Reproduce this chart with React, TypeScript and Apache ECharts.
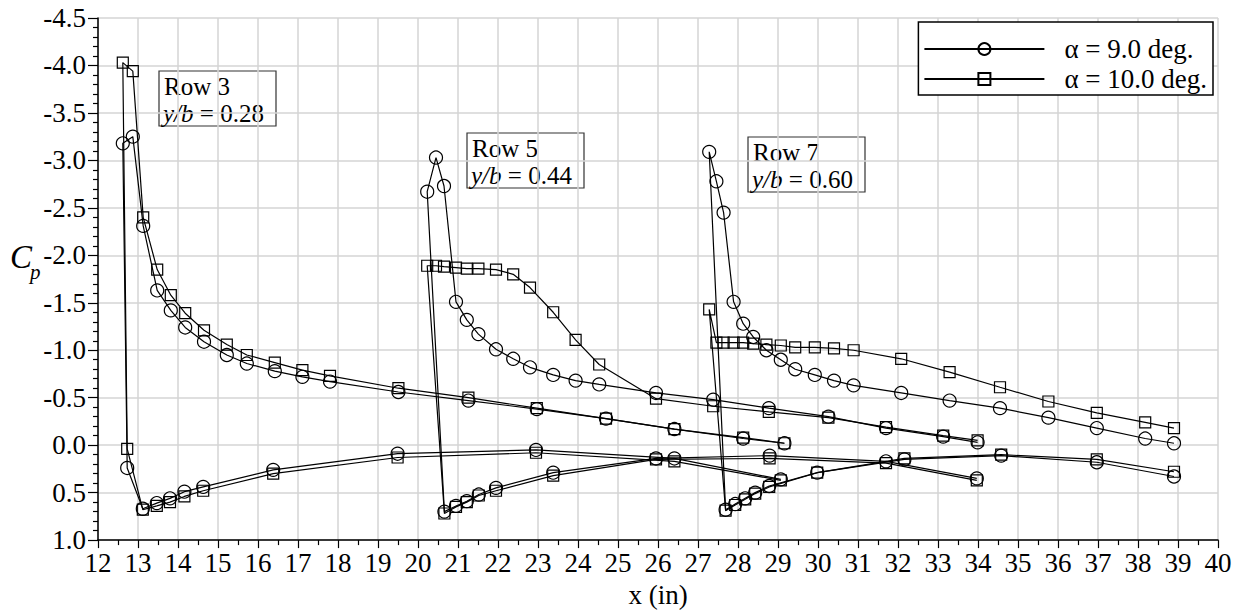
import React, { useEffect, useRef } from 'react';
import * as echarts from 'echarts';

const FONT = '"Liberation Serif", "Times New Roman", serif';

// Axis ranges
const xMin = 12;
const xMax = 40;
const yMin = -4.5;
const yMax = 1.0;

const seriesNames = ['α = 9.0 deg.', 'α = 10.0 deg.'];

// Row 3 (y/b = 0.28)
const row3UpperX = [12.62, 12.87, 13.13, 13.48, 13.82, 14.18, 14.65, 15.22, 15.72, 16.42, 17.11, 17.8, 19.51, 21.26, 22.97, 24.7, 26.41, 28.13, 29.16];
const row3Upper9 = [-3.18, -3.25, -2.31, -1.63, -1.42, -1.24, -1.09, -0.95, -0.86, -0.78, -0.72, -0.67, -0.56, -0.47, -0.38, -0.28, -0.17, -0.07, -0.02];
const row3Upper10 = [-4.03, -3.94, -2.4, -1.85, -1.58, -1.39, -1.21, -1.06, -0.95, -0.87, -0.79, -0.73, -0.6, -0.5, -0.39, -0.28, -0.17, -0.08, -0.02];
const row3LowerX = [12.73, 13.12, 13.47, 13.8, 14.16, 14.63, 16.38, 19.49, 22.95, 26.41, 29.07];
const row3Lower9 = [0.24, 0.67, 0.61, 0.56, 0.49, 0.44, 0.26, 0.09, 0.05, 0.14, 0.36];
const row3Lower10 = [0.04, 0.68, 0.64, 0.6, 0.54, 0.48, 0.3, 0.13, 0.08, 0.17, 0.37];

// Row 5 (y/b = 0.44)
const row5UpperX = [20.23, 20.45, 20.65, 20.95, 21.22, 21.51, 21.95, 22.38, 22.8, 23.38, 23.94, 24.53, 25.95, 27.38, 28.77, 30.26, 31.7, 33.13, 33.99];
const row5Upper9 = [-2.67, -3.03, -2.73, -1.51, -1.32, -1.17, -1.01, -0.91, -0.82, -0.74, -0.68, -0.64, -0.55, -0.48, -0.39, -0.3, -0.18, -0.09, -0.03];
const row5Upper10 = [-1.89, -1.89, -1.88, -1.87, -1.86, -1.86, -1.85, -1.8, -1.66, -1.4, -1.11, -0.85, -0.49, -0.41, -0.35, -0.29, -0.19, -0.1, -0.05];
const row5LowerX = [20.66, 20.95, 21.22, 21.52, 21.95, 23.38, 25.95, 28.79, 31.7, 33.97];
const row5Lower9 = [0.7, 0.64, 0.59, 0.52, 0.45, 0.29, 0.14, 0.11, 0.17, 0.35];
const row5Lower10 = [0.72, 0.65, 0.6, 0.53, 0.48, 0.32, 0.15, 0.14, 0.19, 0.37];

// Row 7 (y/b = 0.60)
const row7UpperX = [27.28, 27.46, 27.64, 27.89, 28.13, 28.38, 28.71, 29.07, 29.43, 29.92, 30.4, 30.89, 32.08, 33.29, 34.55, 35.76, 36.97, 38.18, 38.9];
const row7Upper9 = [-3.09, -2.78, -2.45, -1.51, -1.28, -1.14, -1.0, -0.9, -0.8, -0.74, -0.68, -0.63, -0.55, -0.47, -0.39, -0.29, -0.18, -0.07, -0.02];
const row7Upper10 = [-1.43, -1.08, -1.08, -1.08, -1.08, -1.07, -1.06, -1.05, -1.03, -1.03, -1.02, -1.0, -0.91, -0.77, -0.61, -0.46, -0.34, -0.24, -0.18];
const row7LowerX = [27.69, 27.93, 28.18, 28.43, 28.78, 29.98, 32.16, 34.58, 36.97, 38.9];
const row7Lower9 = [0.68, 0.62, 0.56, 0.5, 0.43, 0.29, 0.15, 0.11, 0.18, 0.33];
const row7Lower10 = [0.69, 0.63, 0.57, 0.51, 0.44, 0.29, 0.14, 0.1, 0.15, 0.28];

// Annotation labels
const rowLabels = ['Row 3', 'Row 5', 'Row 7'];
const ybLabels = ['0.28', '0.44', '0.60'];

function loop(ux: number[], u: number[], lx: number[], l: number[]) {
  const pts: number[][] = [];
  for (let i = ux.length - 1; i >= 0; i--) pts.push([ux[i], u[i]]);
  for (let i = 0; i < lx.length; i++) pts.push([lx[i], l[i]]);
  return pts;
}

function makeSeries(name: string, data: number[][], square: boolean) {
  return {
    type: 'line',
    name,
    data,
    symbol: square ? 'rect' : 'circle',
    symbolSize: square ? 11 : 13,
    showSymbol: true,
    showAllSymbol: true,
    lineStyle: { color: '#000', width: 1.2 },
    itemStyle: { color: 'rgba(255,255,255,0)', borderColor: '#000', borderWidth: 1.2 },
    emphasis: { disabled: true },
    silent: true,
  };
}

export default function App() {
  const ref = useRef<HTMLDivElement>(null);
  useEffect(() => {
    const chart = echarts.init(ref.current!, null, { renderer: 'svg' });
    const boxPos = [
      [159, 71],
      [467, 133],
      [748, 137],
    ];
    const graphics: any[] = [];
    boxPos.forEach((p, i) => {
      graphics.push({
        type: 'group',
        children: [
          {
            type: 'rect',
            shape: { x: p[0], y: p[1], width: 117, height: 55 },
            style: { fill: '#fff', stroke: '#333', lineWidth: 1.2 },
          },
          {
            type: 'text',
            style: {
              x: p[0] + 5,
              y: p[1] + 15,
              text: rowLabels[i],
              fontFamily: FONT,
              fontSize: 25,
              fill: '#000',
              verticalAlign: 'middle',
            },
          },
          {
            type: 'text',
            style: {
              x: p[0] + 4,
              y: p[1] + 42,
              text: '{i|y/b} = ' + ybLabels[i],
              fontFamily: FONT,
              fontSize: 25,
              fill: '#000',
              verticalAlign: 'middle',
              rich: { i: { fontStyle: 'italic', fontFamily: FONT, fontSize: 25, fill: '#000' } },
            },
          },
        ],
      });
    });
    graphics.push({
      type: 'text',
      style: { x: 10, y: 257, text: 'C', fontFamily: FONT, fontStyle: 'italic', fontSize: 33, fill: '#000', verticalAlign: 'middle' },
    });
    graphics.push({
      type: 'text',
      style: { x: 30, y: 272, text: 'p', fontFamily: FONT, fontStyle: 'italic', fontSize: 21, fill: '#000', verticalAlign: 'middle' },
    });

    chart.setOption({
      animation: false,
      backgroundColor: '#fff',
      grid: { left: 98, right: 21, top: 18, bottom: 61, containLabel: false },
      legend: {
        data: seriesNames,
        orient: 'vertical',
        right: 26,
        top: 22,
        itemWidth: 120,
        itemHeight: 15,
        itemGap: 2,
        padding: [13, 6, 2, 5],
        borderColor: '#000',
        borderWidth: 1.5,
        backgroundColor: '#fff',
        selectedMode: false,
        textStyle: { fontFamily: FONT, fontSize: 27, color: '#000', lineHeight: 28, padding: [0, 0, 0, 15] },
      },
      xAxis: {
        type: 'value',
        min: xMin,
        max: xMax,
        interval: 1,
        axisLine: { show: true, onZero: false, lineStyle: { color: '#000', width: 1.5 } },
        axisTick: { show: true, length: 8, lineStyle: { color: '#000', width: 1.2 } },
        minorTick: { show: true, splitNumber: 2, length: 5, lineStyle: { color: '#000', width: 1.2 } },
        splitLine: { show: true, lineStyle: { color: '#d4d4d4', width: 1.5 } },
        axisLabel: { color: '#000', fontFamily: FONT, fontSize: 27, margin: 9 },
        name: 'x (in)',
        nameLocation: 'middle',
        nameGap: 35,
        nameTextStyle: { color: '#000', fontFamily: FONT, fontSize: 27 },
      },
      yAxis: {
        type: 'value',
        inverse: true,
        min: yMin,
        max: yMax,
        interval: 0.5,
        axisLine: { show: true, onZero: false, lineStyle: { color: '#000', width: 1.5 } },
        axisTick: { show: true, length: 10, lineStyle: { color: '#000', width: 1.2 } },
        minorTick: { show: true, splitNumber: 5, length: 5, lineStyle: { color: '#000', width: 1.2 } },
        splitLine: { show: true, lineStyle: { color: '#d4d4d4', width: 1.5 } },
        axisLabel: {
          color: '#000',
          fontFamily: FONT,
          fontSize: 27,
          margin: 12,
          formatter: (v: number) => (Math.abs(v) < 1e-9 ? '0.0' : v.toFixed(1)),
        },
      },
      graphic: graphics,
      series: [
        makeSeries(seriesNames[0], loop(row3UpperX, row3Upper9, row3LowerX, row3Lower9), false),
        makeSeries(seriesNames[1], loop(row3UpperX, row3Upper10, row3LowerX, row3Lower10), true),
        makeSeries(seriesNames[0], loop(row5UpperX, row5Upper9, row5LowerX, row5Lower9), false),
        makeSeries(seriesNames[1], loop(row5UpperX, row5Upper10, row5LowerX, row5Lower10), true),
        makeSeries(seriesNames[0], loop(row7UpperX, row7Upper9, row7LowerX, row7Lower9), false),
        makeSeries(seriesNames[1], loop(row7UpperX, row7Upper10, row7LowerX, row7Lower10), true),
      ],
    });
    return () => chart.dispose();
  }, []);
  return (
    <div
      ref={ref}
      style={{ position: 'fixed', left: 0, top: 0, width: 1239, height: 613, background: '#fff' }}
    />
  );
}
